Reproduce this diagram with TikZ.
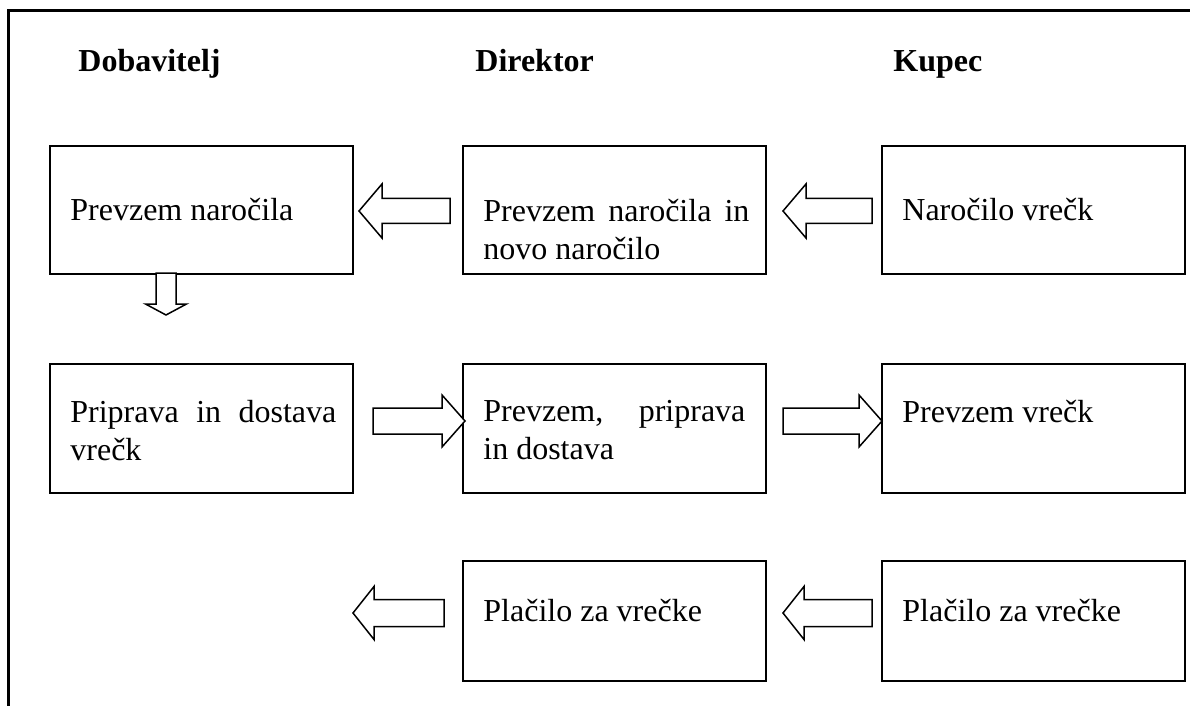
\documentclass[tikz,border=0pt]{standalone}
\usepackage{fontspec}
\setmainfont{Liberation Serif}
\usetikzlibrary{positioning,calc}
\hyphenpenalty=10000

\tikzset{
    okvir/.style={draw, line width=1pt, minimum width=151.5pt, inner sep=0pt, anchor=north west},
    besedilo/.style={anchor=north west, inner sep=0pt, text width=133pt, align=justify, font=\fontsize{16}{19}\selectfont},
    naslov/.style={anchor=base west, inner sep=0pt, font=\fontsize{16}{19}\selectfont\bfseries},
    blok/.style={draw, line width=0.75pt, fill=white, line join=miter},
}

% block arrow: tail, tip, half shaft, half head, head length
\newcommand{\blokpuscica}[5]{%
    \coordinate (hb) at ($(#2)!#5!(#1)$);
    \draw[blok] ($(#1)!#3!90:(#2)$) -- ($(hb)!#3!90:(#2)$) -- ($(hb)!#4!90:(#2)$) -- (#2)
        -- ($(hb)!#4!-90:(#2)$) -- ($(hb)!#3!-90:(#2)$) -- ($(#1)!#3!-90:(#2)$) -- cycle;}

\begin{document}
\begin{tikzpicture}[x=0.5pt, y=-0.5pt]
    \useasboundingbox (0,0) rectangle (1190,706);

    % Frame
    \draw[line width=1.5pt] (1190,11) -- (8,11) -- (8,706);

    % Headers
    \foreach \x/\ime in {78/Dobavitelj, 475/Direktor, 893/Kupec} {
        \node[naslov] (h\ime) at (\x,72) {\ime};
    }

    % Boxes
    \node[okvir, minimum height=64pt] (A) at (49,145) {};
    \node[okvir, minimum height=64pt] (B) at (462,145) {};
    \node[okvir, minimum height=64pt] (C) at (881,145) {};
    \node[okvir, minimum height=64.5pt] (D) at (49,363) {};
    \node[okvir, minimum height=64.5pt] (E) at (462,363) {};
    \node[okvir, minimum height=64.5pt] (F) at (881,363) {};
    \node[okvir, minimum height=60pt] (H) at (462,560) {};
    \node[okvir, minimum height=60pt] (I) at (881,560) {};

    % Texts
    \node[besedilo] (tA) at ($(A.north west)+(21,53)$) {Prevzem naročila};
    \node[besedilo] (tB) at ($(B.north west)+(21,54)$) {Prevzem naročila in novo naročilo};
    \node[besedilo] (tC) at ($(C.north west)+(21,53)$) {Naročilo vrečk};
    \node[besedilo] (tD) at ($(D.north west)+(21,37)$) {Priprava in dostava vrečk};
    \node[besedilo, text width=131pt] (tE) at ($(E.north west)+(21,37)$) {Prevzem, priprava in dostava};
    \node[besedilo] (tF) at ($(F.north west)+(21,37)$) {Prevzem vrečk};
    \node[besedilo] (tH) at ($(H.north west)+(21,39)$) {Plačilo za vrečke};
    \node[besedilo] (tI) at ($(I.north west)+(21,39)$) {Plačilo za vrečke};

    % Arrows
    \coordinate (BAr) at (450,211);  \coordinate (BAk) at (359,211);
    \coordinate (CBr) at (872,211);  \coordinate (CBk) at (783,211);
    \coordinate (ADr) at (166,273);  \coordinate (ADk) at (166,315);
    \coordinate (DEr) at (373,421);  \coordinate (DEk) at (465,421);
    \coordinate (EFr) at (783,421);  \coordinate (EFk) at (882,421);
    \coordinate (Hr)  at (444,613);  \coordinate (Hk)  at (353,613);
    \coordinate (IHr) at (872,613);  \coordinate (IHk) at (783,613);

    \blokpuscica{BAr}{BAk}{6.25pt}{13.5pt}{11.5pt}
    \blokpuscica{CBr}{CBk}{6.25pt}{13.5pt}{11.5pt}
    \blokpuscica{ADr}{ADk}{5pt}{10.25pt}{5.5pt}
    \blokpuscica{DEr}{DEk}{6.5pt}{13pt}{11.5pt}
    \blokpuscica{EFr}{EFk}{6.5pt}{13pt}{11.5pt}
    \blokpuscica{Hr}{Hk}{6.75pt}{13.25pt}{10.5pt}
    \blokpuscica{IHr}{IHk}{6.75pt}{13.25pt}{10.5pt}
\end{tikzpicture}
\end{document}
